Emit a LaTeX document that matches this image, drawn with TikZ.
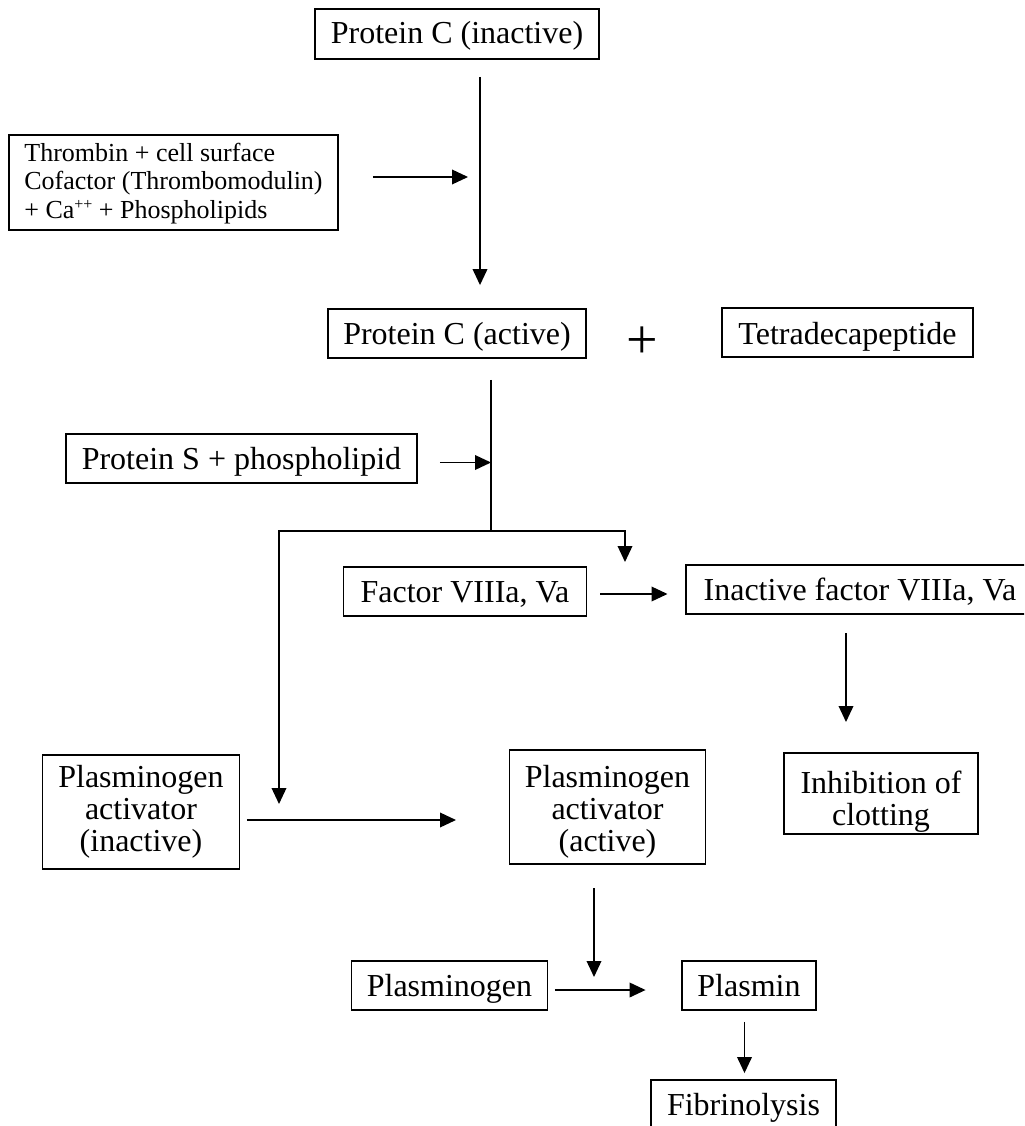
\documentclass[tikz,border=0pt]{standalone}
\usepackage{fontspec}
\setmainfont{Liberation Serif}
\usetikzlibrary{arrows.meta,calc}
\begin{document}
\begin{tikzpicture}[x=0.75pt,y=-0.75pt,
  frame/.style={draw,line width=1.4pt,inner sep=0pt,
    font=\fontsize{24}{24.2}\selectfont},
  box/.style={frame,align=center},
  one/.style={frame,text height=22pt,text depth=6pt},
  sz/.style 2 args={minimum width=#1*0.75pt,minimum height=#2*0.75pt},
  arr/.style={line width=1.1pt,-{Triangle[length=12pt,width=11pt]}},
  ln/.style={line width=1.1pt}]
\useasboundingbox (0,0) rectangle (1024,1126);
\clip (0,0) rectangle (1024,1126);

% nodes
\node[one,sz={284}{50},text height=20.5pt] (pci) at (457,34) {Protein C (inactive)};
\node[frame,sz={329}{95},font=\fontsize{19.5}{21.3}\selectfont,align=left] (thr) at (173.5,182.5)
  {\rule{0pt}{15pt}Thrombin + cell surface\\Cofactor (Thrombomodulin)\\+ Ca{\fontsize{12}{12}\selectfont\raisebox{6.5pt}{++}} + Phospholipids};
\node[font=\fontsize{42}{42}\selectfont,inner sep=0pt] (plus) at (642.5,343) {+};
\node[one,sz={258}{49}] (pca) at (457,333.5) {Protein C (active)};
\node[one,sz={251}{49},text height=24pt] (tet) at (847.5,332.5) {Tetradecapeptide};
\node[one,sz={351}{49}] (ps) at (241.5,458.5) {Protein S + phospholipid};
\node[one,sz={243}{49}] (f8) at (465,591.5) {Factor VIIIa, Va};
\node[one,sz={348}{49}] (if8) at (860,589.5) {Inactive factor VIIIa, Va};
\node[box,sz={197}{114}] (pai) at (141,812) {Plasminogen\\activator\\(inactive)};
\node[box,sz={196}{114}] (paa) at (607.5,807) {\rule{0pt}{24pt}Plasminogen\\activator\\(active)};
\node[box,sz={194}{81}] (inh) at (881,793.5) {\rule{0pt}{29pt}Inhibition of\\clotting};
\node[one,sz={196}{49}] (plg) at (449.5,985.5) {Plasminogen};
\node[one,sz={134}{49}] (pls) at (749,985.5) {Plasmin};
\node[one,sz={185}{49}] (fib) at (743.5,1104.5) {Fibrinolysis};

% connector end points
\coordinate (a1s) at ($(pci.south)+(23,17)$);
\coordinate (a1e) at ($(pca.north)+(23,-23)$);
\coordinate (a2s) at ($(thr.east)+(34,-5.5)$);
\coordinate (a2e) at (468,177);
\coordinate (spl) at ($(pca.south)+(34,21)$);
\coordinate (jn) at (491,531);
\coordinate (ps2) at ($(ps.east)+(22,4)$);
\coordinate (psE) at (491,462.5);
\coordinate (leftE) at (279,804);
\coordinate (f8N) at (625,562);
\coordinate (a5s) at ($(f8.east)+(13,2.5)$);
\coordinate (a5e) at (667.5,594);
\coordinate (a6s) at (846,633);
\coordinate (a6e) at (846,722);
\coordinate (a7s) at ($(pai.east)+(6.5,8)$);
\coordinate (a7e) at (456,820);
\coordinate (a8s) at (594,888);
\coordinate (a8e) at (594,977);
\coordinate (a9s) at ($(plg.east)+(6.5,4.5)$);
\coordinate (a9e) at ($(pls.west)+(-35.5,4.5)$);
\coordinate (a10s) at ($(pls.south)+(-4.5,11)$);
\coordinate (a10e) at ($(fib.north)+(1,-6)$);

% connectors
\draw[arr] (a1s) -- (a1e);
\draw[arr] (a2s) -- (a2e);
\draw[ln] (spl) -- (jn);
\draw[arr] (ps2) -- (psE);
\draw[arr] (jn) -| (leftE);
\draw[arr] (jn) -| (f8N);
\draw[arr] (a5s) -- (a5e);
\draw[arr] (a6s) -- (a6e);
\draw[arr] (a7s) -- (a7e);
\draw[arr] (a8s) -- (a8e);
\draw[arr] (a9s) -- (a9e);
\draw[arr] (a10s) -- (a10e);
\end{tikzpicture}
\end{document}
